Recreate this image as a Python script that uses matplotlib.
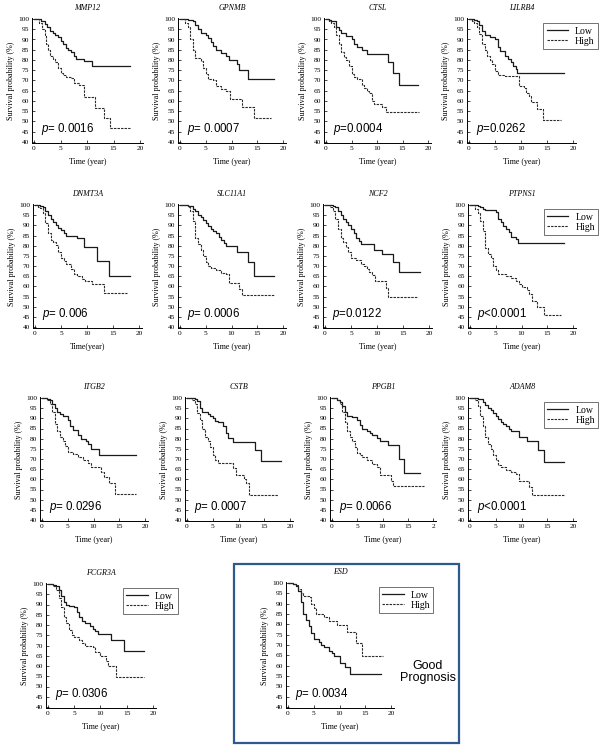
import matplotlib
matplotlib.use("Agg")
import matplotlib.pyplot as plt
from matplotlib.patches import Rectangle

plt.rcParams['mathtext.fontset'] = 'custom'
plt.rcParams['mathtext.it'] = 'Liberation Sans:italic'
plt.rcParams['mathtext.rm'] = 'Liberation Sans'

# ---- data ----
genes = ["MMP12", "GPNMB", "CTSL", "LILRB4",
         "DNMT3A", "SLC11A1", "NCF2", "PTPNS1",
         "ITGB2", "CSTB", "PPGB1", "ADAM8",
         "FCGR3A", "ESD"]
p_values = ["= 0.0016", "= 0.0007", "=0.0004", "=0.0262",
            "= 0.006", "= 0.0006", "=0.0122", "<0.0001",
            "= 0.0296", "= 0.0007", "= 0.0066", "<0.0001",
            "= 0.0306", "= 0.0034"]
x_labels = ["Time (year)"] * 14
x_labels[4] = "Time(year)"
x_ticks = [0, 5, 10, 15, 20]
x_tick_labels = ["0", "5", "10", "15", "20"]
ppgb1_tick_labels = ["0", "5", "10", "15", "2"]
y_ticks = list(range(40, 101, 5))
legend_genes = ["LILRB4", "PTPNS1", "ADAM8", "FCGR3A", "ESD"]

mmp12_low_t = [0, 1.4, 2.0, 2.5, 3.0, 3.5, 4.0, 4.5, 5.0, 5.5, 6.0, 6.5, 7.0, 7.5, 8.0, 9.5, 11.0, 18.2]
mmp12_low_s = [100, 99, 97.5, 96, 94, 93, 92, 91, 89.5, 88, 86, 85, 84, 82, 80.5, 79.5, 77, 77]
mmp12_high_t = [0, 1.0, 1.5, 2.0, 2.3, 2.6, 3.0, 3.5, 4.0, 4.5, 5.0, 5.5, 6.0, 7.0, 7.5, 8.5, 9.5, 11.5, 13.2, 14.4, 18.2]
mmp12_high_s = [100, 98, 95, 92, 88, 85, 82, 80.5, 79, 76, 73.5, 72.5, 71.5, 71, 69, 68, 62, 56.5, 51.5, 47, 47]

gpnmb_low_t = [0, 1.6, 2.5, 3.0, 3.5, 4.0, 5.0, 5.5, 6.0, 6.5, 7.0, 8.0, 9.0, 9.5, 11.0, 11.5, 13.3, 18.2]
gpnmb_low_s = [100, 99.5, 99, 97, 95, 93, 92, 90.5, 89, 87, 85, 83.5, 82, 80, 78, 75, 70.5, 70.5]
gpnmb_high_t = [0, 1.0, 1.5, 2.0, 2.5, 3.0, 4.0, 4.5, 5.0, 5.5, 6.5, 7.0, 8.0, 9.0, 9.7, 12.0, 14.3, 17.7]
gpnmb_high_s = [100, 98, 96, 90, 85, 81, 79.5, 76, 73, 70.5, 70, 67.5, 66, 65, 61, 57, 51.5, 51.5]

ctsl_low_t = [0, 0.5, 1.0, 2.0, 2.5, 3.0, 4.0, 5.0, 5.5, 6.0, 7.0, 8.0, 12.1, 13.2, 14.3, 18.1]
ctsl_low_s = [100, 99.5, 99, 96, 94.5, 93, 91.5, 90, 88, 86.5, 85, 83, 79, 73.5, 68, 68]
ctsl_high_t = [0, 0.5, 1.0, 1.5, 2.0, 2.5, 3.0, 3.5, 4.0, 4.5, 5.0, 5.5, 6.0, 7.0, 7.5, 8.0, 8.5, 9.0, 9.5, 11.0, 11.7, 18.2]
ctsl_high_s = [100, 99, 98, 96, 92, 88, 84, 81.5, 80, 77, 73, 71.5, 70.5, 68, 66.5, 65, 64, 60, 58.5, 57, 54.5, 54.5]

lilrb4_low_t = [0, 1.0, 1.5, 2.0, 2.5, 3.0, 4.0, 5.0, 5.5, 6.0, 7.0, 7.5, 8.0, 8.5, 9.0, 9.3, 18.3]
lilrb4_low_s = [100, 99.5, 99, 97, 94, 92, 91, 90, 86.5, 84.5, 82, 80.5, 79, 77, 75.5, 73.5, 73.5]
lilrb4_high_t = [0, 0.5, 1.0, 1.5, 2.0, 2.5, 3.0, 3.5, 4.0, 4.5, 5.0, 5.5, 7.0, 9.6, 10.5, 11.0, 11.5, 12.0, 13.0, 14.3, 17.7]
lilrb4_high_s = [100, 99, 98, 96, 92.5, 88, 85, 82, 80, 78, 74.5, 72.5, 72, 67.5, 66.5, 64, 62.5, 59.5, 56, 50.5, 50.5]

dnmt3a_low_t = [0, 1.0, 1.5, 2.0, 2.5, 3.0, 3.5, 4.0, 4.5, 5.0, 5.5, 6.0, 8.0, 9.5, 12.0, 14.3, 18.3]
dnmt3a_low_s = [100, 99.5, 99, 97, 95, 93, 91.5, 90, 88.5, 87.5, 86, 85, 84, 79.5, 72.5, 65, 65]
dnmt3a_high_t = [0, 0.5, 1.0, 1.5, 2.0, 2.5, 3.0, 3.5, 4.0, 4.5, 5.0, 5.5, 6.0, 7.0, 7.5, 8.0, 9.0, 9.6, 11.0, 13.3, 17.7]
dnmt3a_high_s = [100, 99, 98.5, 96, 91, 86, 83, 82, 80.5, 77, 74, 72.5, 71, 68.5, 66, 65, 63.5, 62.5, 61, 56.5, 56.5]

slc11a1_low_t = [0, 1.5, 2.0, 2.5, 3.0, 3.5, 4.0, 4.5, 5.0, 5.5, 6.0, 6.5, 7.0, 7.5, 8.0, 8.5, 9.0, 11.0, 13.3, 14.3, 18.3]
slc11a1_low_s = [100, 99.7, 99.5, 98, 97, 95, 94, 92.5, 91, 89.5, 88, 87, 86, 84.5, 83, 81.5, 80, 77, 72, 65, 65]
slc11a1_high_t = [0, 1.5, 2.0, 2.5, 3.0, 3.5, 4.0, 4.5, 5.0, 5.5, 6.0, 7.0, 8.0, 9.0, 9.5, 11.5, 12.0, 18.3]
slc11a1_high_s = [100, 99, 97, 92, 84, 81, 78, 75, 72, 70, 69, 68, 66.5, 66, 61.5, 58.5, 55.5, 55.5]

ncf2_low_t = [0, 1.5, 2.0, 2.5, 3.0, 3.5, 4.0, 4.5, 5.0, 5.5, 6.0, 6.5, 7.0, 9.5, 11.0, 13.0, 14.2, 18.3]
ncf2_low_s = [100, 99.5, 99, 97, 95, 93, 91.5, 90, 88, 86, 84, 82.5, 81, 78, 76, 72, 67, 67]
ncf2_high_t = [0, 1.0, 1.5, 2.0, 2.5, 3.0, 3.5, 4.0, 4.5, 5.0, 6.0, 7.0, 7.5, 8.0, 8.5, 9.0, 9.6, 11.8, 12.1, 17.8]
ncf2_high_s = [100, 99, 97, 93, 88, 84, 82, 79.5, 77, 74, 73, 71, 70, 68.5, 67, 65.5, 62.5, 59, 55, 55]

ptpns1_low_t = [0, 1.5, 2.0, 2.5, 3.0, 5.0, 5.5, 6.0, 6.5, 7.0, 7.5, 8.0, 9.0, 9.3, 18.3]
ptpns1_low_s = [100, 99.5, 99, 98, 97.5, 96.5, 93, 91.5, 89.5, 88, 86.5, 84.5, 83.5, 81.5, 81.5]
ptpns1_high_t = [0, 1.0, 1.5, 2.0, 2.5, 3.0, 3.5, 4.0, 4.5, 5.0, 5.5, 7.0, 8.0, 9.0, 9.5, 10.0, 11.0, 11.5, 12.0, 13.0, 14.3, 17.7]
ptpns1_high_s = [100, 98, 96, 92, 87, 79, 76, 74, 70, 68, 66, 65, 64, 62.5, 61, 59.5, 58, 56, 53, 50, 46, 46]

itgb2_low_t = [0, 1.0, 1.5, 2.0, 2.5, 3.0, 3.5, 4.0, 5.0, 5.5, 6.0, 7.0, 7.5, 8.5, 9.0, 9.5, 11.0, 18.2]
itgb2_low_s = [100, 99.5, 99, 97, 95, 93, 92, 91, 89, 86, 84.5, 82, 80, 79, 77.5, 75, 72, 72]
itgb2_high_t = [0, 1.0, 1.5, 2.0, 2.5, 3.0, 3.5, 4.0, 4.5, 5.0, 6.0, 7.0, 8.0, 9.0, 9.5, 11.5, 12.0, 13.0, 14.2, 18.2]
itgb2_high_s = [100, 99, 97, 93, 87, 84, 81, 79, 76.5, 73.5, 72.5, 71, 69.5, 68, 66, 63.5, 61, 58, 53, 53]

cstb_low_t = [0, 1.5, 2.0, 2.5, 3.0, 4.0, 4.5, 5.0, 5.5, 6.0, 7.0, 7.5, 8.0, 9.0, 13.3, 14.3, 18.2]
cstb_low_s = [100, 99.5, 98.5, 95, 93, 92, 91, 90, 88.5, 88, 86, 83, 80.5, 78.5, 74.5, 69, 69]
cstb_high_t = [0, 1.0, 1.5, 2.0, 2.5, 3.0, 3.5, 4.0, 4.5, 5.0, 5.5, 6.0, 9.0, 9.5, 11.0, 11.5, 12.0, 17.7]
cstb_high_s = [100, 99, 97, 92.5, 89, 85, 81, 79, 76, 72, 69.5, 68, 65.5, 62, 60, 58, 52.5, 52.5]

ppgb1_low_t = [0, 1.0, 1.5, 2.0, 2.5, 3.0, 4.0, 5.0, 5.5, 6.0, 7.0, 7.5, 8.0, 9.0, 9.5, 11.0, 13.3, 14.2, 17.5]
ppgb1_low_s = [100, 99, 98, 96, 93, 91, 90.5, 89, 86.5, 85, 84, 83, 82, 80.5, 79, 77, 70, 63, 63]
ppgb1_high_t = [0, 1.0, 1.5, 2.0, 2.5, 3.0, 3.5, 4.0, 4.5, 5.0, 5.5, 6.0, 7.0, 8.0, 9.0, 9.5, 11.6, 12.0, 18.3]
ppgb1_high_s = [100, 99, 97, 93, 88, 84, 81, 79, 76, 73, 72, 71, 69.5, 67.5, 66, 62, 59, 56.5, 56.5]

adam8_low_t = [0, 1.5, 2.0, 2.5, 3.0, 3.5, 4.0, 4.5, 5.0, 5.5, 6.0, 6.5, 7.0, 7.5, 8.0, 9.5, 11.0, 13.3, 14.3, 18.3]
adam8_low_s = [100, 99.7, 99.5, 98, 96.5, 95, 94, 92.5, 91, 89.5, 88, 87, 86, 85, 84, 81, 79, 74.5, 68.5, 68.5]
adam8_high_t = [0, 1.0, 1.5, 2.0, 2.5, 3.0, 3.5, 4.0, 4.5, 5.0, 5.5, 6.0, 7.0, 8.0, 9.0, 9.5, 11.5, 12.0, 18.2]
adam8_high_s = [100, 99, 96, 91, 86, 81, 77.5, 75, 72, 69.5, 67, 66, 64.5, 63.5, 62.5, 59, 56, 52.5, 52.5]

fcgr3a_low_t = [0, 1.0, 1.5, 2.0, 2.5, 3.0, 3.5, 4.0, 5.0, 5.5, 6.0, 6.5, 7.0, 8.0, 8.5, 9.0, 9.5, 12.0, 14.4, 18.3]
fcgr3a_low_s = [100, 99.5, 99, 97, 94, 91, 90, 89.5, 89, 86.5, 84, 82, 81, 79.5, 78, 77, 75.5, 72.5, 67.5, 67.5]
fcgr3a_high_t = [0, 1.0, 1.5, 2.0, 2.5, 3.0, 3.5, 4.0, 4.5, 5.0, 6.0, 6.5, 7.0, 8.5, 9.0, 10.0, 11.0, 11.5, 13.0, 18.3]
fcgr3a_high_s = [100, 99, 97, 93, 89, 84, 81, 77.5, 75, 74, 72.5, 71, 70, 69.5, 67, 65, 62.5, 60, 54.5, 54.5]

esd_low_t = [0, 1.0, 1.5, 2.0, 2.5, 3.0, 3.5, 4.0, 4.5, 5.0, 6.0, 6.5, 7.0, 8.0, 8.5, 9.0, 10.0, 11.0, 12.0, 18.0]
esd_low_s = [100, 99.5, 98.5, 96, 91, 85, 82, 79, 76, 73, 71.5, 70, 69, 67, 66, 64.5, 61.5, 59.5, 56, 56]
esd_high_t = [0, 1.0, 1.5, 2.0, 2.5, 3.0, 4.0, 4.5, 5.0, 5.5, 7.0, 8.0, 9.5, 11.5, 13.3, 14.3, 18.5]
esd_high_s = [100, 99.5, 99, 97, 95, 93.5, 93, 90, 88, 85, 83.5, 81.5, 79.5, 76.5, 71, 64.5, 64.5]

low_times = [mmp12_low_t, gpnmb_low_t, ctsl_low_t, lilrb4_low_t,
             dnmt3a_low_t, slc11a1_low_t, ncf2_low_t, ptpns1_low_t,
             itgb2_low_t, cstb_low_t, ppgb1_low_t, adam8_low_t,
             fcgr3a_low_t, esd_low_t]
low_surv = [mmp12_low_s, gpnmb_low_s, ctsl_low_s, lilrb4_low_s,
            dnmt3a_low_s, slc11a1_low_s, ncf2_low_s, ptpns1_low_s,
            itgb2_low_s, cstb_low_s, ppgb1_low_s, adam8_low_s,
            fcgr3a_low_s, esd_low_s]
high_times = [mmp12_high_t, gpnmb_high_t, ctsl_high_t, lilrb4_high_t,
              dnmt3a_high_t, slc11a1_high_t, ncf2_high_t, ptpns1_high_t,
              itgb2_high_t, cstb_high_t, ppgb1_high_t, adam8_high_t,
              fcgr3a_high_t, esd_high_t]
high_surv = [mmp12_high_s, gpnmb_high_s, ctsl_high_s, lilrb4_high_s,
             dnmt3a_high_s, slc11a1_high_s, ncf2_high_s, ptpns1_high_s,
             itgb2_high_s, cstb_high_s, ppgb1_high_s, adam8_high_s,
             fcgr3a_high_s, esd_high_s]

# ---- layout: pixel positions of x=0, x=20, y=100, y=40 for each panel ----
W, H = 600, 746
boxes = [(34, 140, 19, 142), (180, 283, 19, 142), (326, 428, 19, 142), (469, 573, 19, 142),
         (35, 139, 205, 327), (180, 283, 205, 327), (325, 429, 205, 327), (470, 573, 205, 327),
         (42, 145, 398, 520), (187, 290, 398, 520), (332, 433, 398, 520), (470, 573, 398, 520),
         (48, 153, 584, 707), (288, 391, 583, 707)]

XMIN, XMAX = -0.4, 20.6
YMIN, YMAX = 39.3, 100.3
SERIF = "Liberation Serif"
SANS = "Liberation Sans"

fig = plt.figure(figsize=(W / 100, H / 100), dpi=100)

for i, gene in enumerate(genes):
    x0, x20, y100, y40 = boxes[i]
    ppx = (x20 - x0) / 20.0
    ppy = (y40 - y100) / 60.0
    left = x0 + XMIN * ppx
    right = x0 + XMAX * ppx
    top = y40 - (YMAX - 40) * ppy
    bottom = y40 - (YMIN - 40) * ppy
    ax = fig.add_axes([left / W, 1 - bottom / H, (right - left) / W, (bottom - top) / H])

    ax.step(low_times[i], low_surv[i], where='post', color='#1a1a1a', lw=0.9,
            label='Low')
    ax.step(high_times[i], high_surv[i], where='post', color='#2a2a2a', lw=0.8,
            linestyle=(0, (2.2, 1.0)), label='High')

    ax.set_xlim(XMIN, XMAX)
    ax.set_ylim(YMIN, YMAX)
    ax.set_xticks(x_ticks)
    ax.set_xticklabels(ppgb1_tick_labels if gene == "PPGB1" else x_tick_labels,
                       family=SERIF, fontsize=5.3)
    ax.set_yticks(y_ticks)
    ax.set_yticklabels([str(v) for v in y_ticks], family=SERIF, fontsize=5.3)
    ax.tick_params(direction='in', length=2, width=0.5, pad=2)
    for side in ['top', 'right']:
        ax.spines[side].set_visible(False)
    for side in ['left', 'bottom']:
        ax.spines[side].set_linewidth(0.7)

    ax.set_title(gene, family=SERIF, style='italic', fontsize=5.8, pad=6)
    ax.set_xlabel(x_labels[i], family=SERIF, fontsize=5.8, labelpad=5)
    ax.set_ylabel("Survival probability (%)", family=SERIF, fontsize=5.8, labelpad=2)

    ax.text(1.4, 46.5, "$p$" + p_values[i], family=SANS, fontsize=8.3,
            ha='left', va='center')

    if gene in legend_genes:
        anchor_x = 0.86 if gene == "ESD" else 0.70
        leg = ax.legend(loc='upper left', bbox_to_anchor=(anchor_x, 0.96),
                        prop={'family': SERIF, 'size': 7}, frameon=True,
                        fancybox=False, edgecolor='#333333', handlelength=2.2,
                        handletextpad=0.7, borderpad=0.35, labelspacing=0.1,
                        borderaxespad=0)
        leg.get_frame().set_linewidth(0.6)

# highlight box around ESD panel
fig.patches.append(Rectangle((234 / W, 1 - 743 / H), (459 - 234) / W, (743 - 564) / H,
                             transform=fig.transFigure, fill=False,
                             edgecolor='#2f5a8f', lw=1.6))
fig.text(428 / W, 1 - 672 / H, "Good\nPrognosis", family=SANS, fontsize=9,
         ha='center', va='center', linespacing=1.1)

fig.savefig("out.png", dpi=100)
